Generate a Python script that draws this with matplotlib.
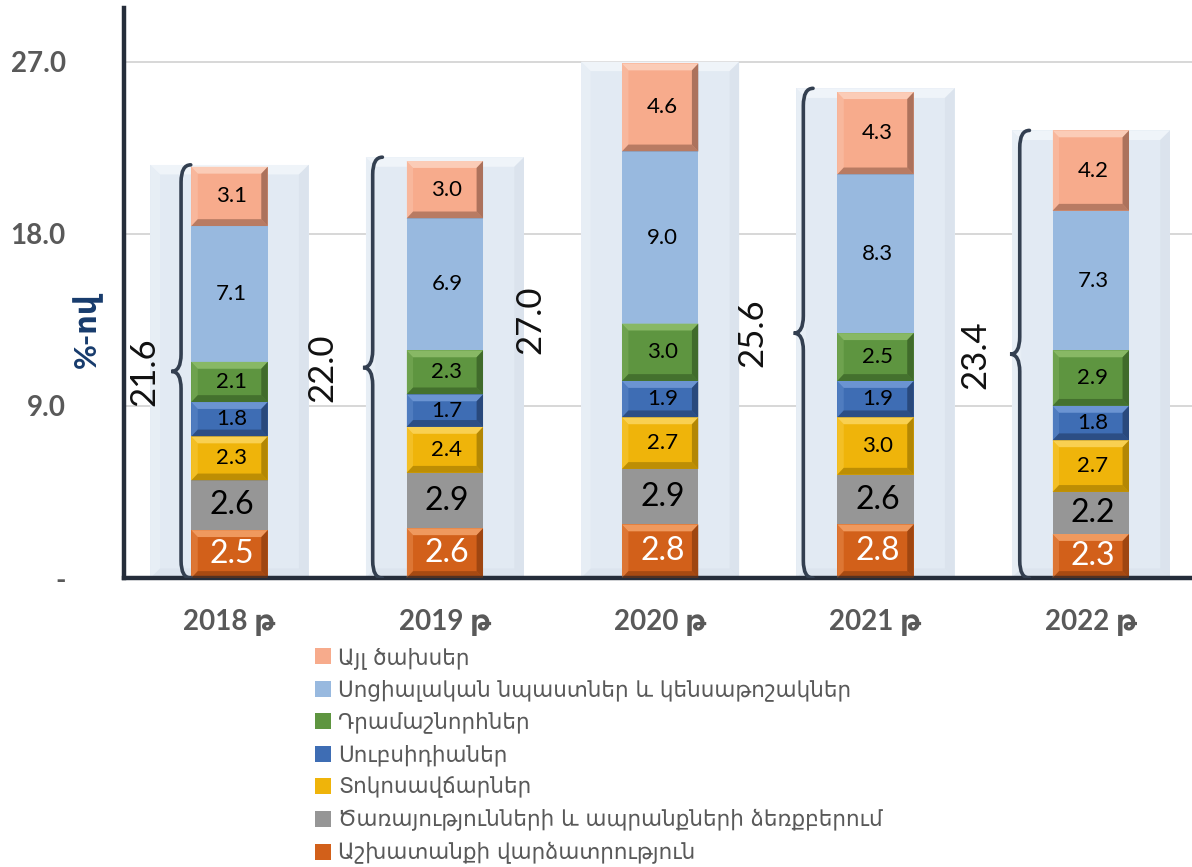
import matplotlib
matplotlib.use("Agg")
import matplotlib.pyplot as plt
from matplotlib.patches import Polygon, PathPatch
from matplotlib.path import Path
from matplotlib.ticker import FuncFormatter
import numpy as np

# ---------------- data ----------------
years = ["2018 թ", "2019 թ", "2020 թ", "2021 թ", "2022 թ"]
series_names = [
    "Աշխատանքի վարձատրություն",
    "Ծառայությունների և ապրանքների ձեռքբերում",
    "Տոկոսավճարներ",
    "Սուբսիդիաներ",
    "Դրամաշնորհներ",
    "Սոցիալական նպաստներ և կենսաթոշակներ",
    "Այլ ծախսեր",
]
labor = [2.5, 2.6, 2.8, 2.8, 2.3]
goods = [2.6, 2.9, 2.9, 2.6, 2.2]
interest = [2.3, 2.4, 2.7, 3.0, 2.7]
subsidies = [1.8, 1.7, 1.9, 1.9, 1.8]
grants = [2.1, 2.3, 3.0, 2.5, 2.9]
social = [7.1, 6.9, 9.0, 8.3, 7.3]
other = [3.1, 3.0, 4.6, 4.3, 4.2]
totals = [21.6, 22.0, 27.0, 25.6, 23.4]
yticks = [0, 9, 18, 27]

# ---------------- style ----------------
series = [labor, goods, interest, subsidies, grants, social, other]
faces = ["#d2601a", "#969696", "#efb40a", "#3e6db4", "#5e9540", "#98b9df", "#f7ab8c"]
lights = ["#f3a066", None, "#fbd45a", "#7199d6", "#8dbd6a", None, "#fcd0bc"]
darks = ["#7e360c", None, "#8c6a00", "#1b3158", "#2c4f1d", None, "#7a4c3c"]
label_size = [23, 23, 16, 16, 16, 16, 16]
label_color = ["white", "black", "black", "black", "black", "black", "black"]

brace_show = [True, True, False, True, True]
brace_off = [-0.225, -0.335, -0.335, -0.335, -0.33]
total_off = [-0.395, -0.567, -0.605, -0.572, -0.535]

W, H = 1192, 867
fig = plt.figure(figsize=(W / 100, H / 100), dpi=100)
ax = fig.add_axes([124 / W, 1 - 578 / H, 1 - 124 / W, 570 / H])

x = np.arange(len(years))
ax.set_xlim(-0.49, 4.47)
ax.set_ylim(0, 29.8)

# grid
for t in yticks[1:]:
    ax.axhline(t, color="#d4d4d4", lw=1.3, zorder=0)

# background bars
bg = ax.bar(x, totals, width=0.735, color="#e2eaf3", zorder=1, linewidth=0)

def bevel(rect, light, dark, bx=0.03, by=0.36, zorder=3, alpha=1.0):
    x0, y0 = rect.get_x(), rect.get_y()
    w, h = rect.get_width(), rect.get_height()
    x1, y1 = x0 + w, y0 + h
    byy = min(by, h * 0.3)
    top = [(x0, y1), (x1, y1), (x1 - bx, y1 - byy), (x0 + bx, y1 - byy)]
    bot = [(x0, y0), (x1, y0), (x1 - bx, y0 + byy), (x0 + bx, y0 + byy)]
    left = [(x0, y0), (x0, y1), (x0 + bx, y1 - byy), (x0 + bx, y0 + byy)]
    right = [(x1, y0), (x1, y1), (x1 - bx, y1 - byy), (x1 - bx, y0 + byy)]
    ax.add_patch(Polygon(top, closed=True, fc=light, ec="none", zorder=zorder, alpha=alpha * 0.9))
    ax.add_patch(Polygon(left, closed=True, fc=light, ec="none", zorder=zorder, alpha=alpha * 0.35))
    ax.add_patch(Polygon(right, closed=True, fc=dark, ec="none", zorder=zorder, alpha=alpha * 0.6))
    ax.add_patch(Polygon(bot, closed=True, fc=dark, ec="none", zorder=zorder, alpha=alpha * 0.5))

for r in bg.patches:
    bevel(r, "#fbfdff", "#cfd8e3", bx=0.045, by=0.5, zorder=1.5, alpha=0.6)

bottom = np.zeros(len(years))
handles = []
for i, vals in enumerate(series):
    bars = ax.bar(x, vals, width=0.355, bottom=bottom, color=faces[i],
                  linewidth=0, zorder=2, label=series_names[i])
    handles.append(bars)
    for j, r in enumerate(bars.patches):
        if lights[i] is not None:
            bevel(r, lights[i], darks[i])
        ax.text(r.get_x() + r.get_width() / 2 + 0.01, r.get_y() + r.get_height() / 2,
                f"{vals[j]:.1f}", ha="center", va="center", fontsize=label_size[i],
                color=label_color[i], family=["Lato", "DejaVu Sans"], zorder=5)
    bottom = bottom + np.array(vals)

# braces and totals
def brace(xv, y0, y1, w=0.045, r=0.9):
    ym = (y0 + y1) / 2
    verts = [(xv + w, y1), (xv, y1), (xv, y1 - r),
             (xv, ym + r), (xv, ym), (xv - w, ym),
             (xv, ym), (xv, ym - r),
             (xv, y0 + r), (xv, y0), (xv + w, y0)]
    codes = [Path.MOVETO, Path.CURVE3, Path.CURVE3,
             Path.LINETO, Path.CURVE3, Path.CURVE3,
             Path.CURVE3, Path.CURVE3,
             Path.LINETO, Path.CURVE3, Path.CURVE3]
    ax.add_patch(PathPatch(Path(verts, codes), fc="none", ec="#333f50", lw=2.6,
                           zorder=6, capstyle="round"))

for j in range(len(years)):
    if brace_show[j]:
        brace(x[j] + brace_off[j], 0, totals[j])
    ax.text(x[j] + total_off[j], totals[j] / 2, f"{totals[j]:.1f}", rotation=90,
            ha="center", va="center", fontsize=25, color="#111111",
            family=["Lato", "DejaVu Sans"], zorder=6)

# axes styling
for s in ["top", "right"]:
    ax.spines[s].set_visible(False)
for s in ["left", "bottom"]:
    ax.spines[s].set_color("#252d3a")
    ax.spines[s].set_linewidth(3.2)
ax.set_xticks(x)
ax.set_xticklabels(years)
ax.set_yticks(yticks)
ax.yaxis.set_major_formatter(FuncFormatter(lambda v, p: "-" if v == 0 else f"{v:.1f}"))
ax.tick_params(axis="y", length=0, pad=42, labelsize=20, labelcolor="#595959")
ax.tick_params(axis="x", length=0, pad=22, labelsize=20, labelcolor="#595959")
for lab in ax.get_yticklabels() + ax.get_xticklabels():
    lab.set_fontweight("bold")
    lab.set_family(["Lato", "DejaVu Sans"])

fig.text(88 / W, 1 - 330 / H, "%-ով", rotation=90, ha="center", va="center",
         fontsize=22, fontweight="bold", color="#173b6c", family=["Lato", "DejaVu Sans"])

leg = fig.legend(handles[::-1], series_names[::-1], loc="upper left",
                 bbox_to_anchor=(304 / W, 1 - 636 / H), frameon=False,
                 prop={"family": ["DejaVu Sans"], "size": 15.5},
                 handlelength=0.75, handleheight=0.75, handletextpad=0.35,
                 labelspacing=0.5, borderpad=0)
for t in leg.get_texts():
    t.set_color("#595959")

fig.savefig("out.png", dpi=100)
